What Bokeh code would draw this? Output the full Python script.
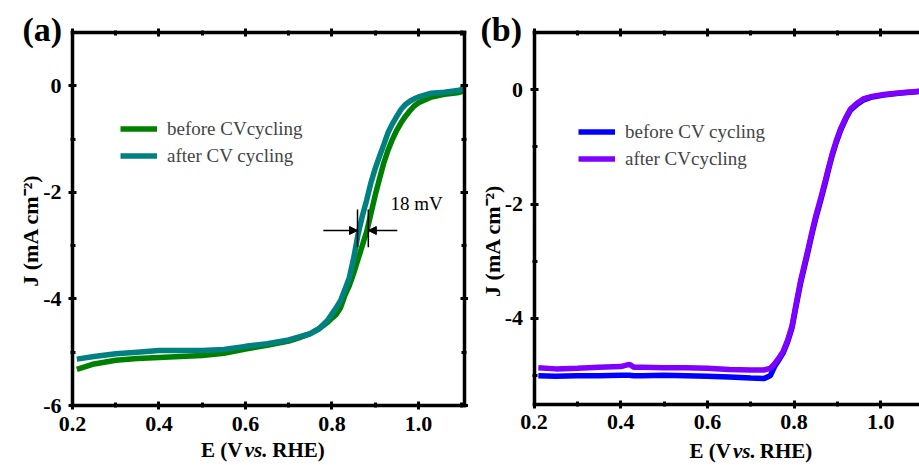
import math
from bokeh.plotting import figure
from bokeh.models import (FixedTicker, LinearAxis, Legend, LegendItem, Label,
                          Arrow, NormalHead, Range1d)
from bokeh.layouts import row
from bokeh.embed import file_html
from bokeh.resources import INLINE

# ---------------- data ----------------
# panel (a)
E_A = [0.21, 0.25, 0.30, 0.35, 0.40, 0.45, 0.50, 0.55, 0.60, 0.65, 0.70, 0.72,
       0.75, 0.77, 0.79, 0.80, 0.81, 0.82, 0.83, 0.84, 0.85, 0.86, 0.87, 0.88,
       0.89, 0.90, 0.91, 0.92, 0.93, 0.94, 0.95, 0.96, 0.97, 0.98, 0.99, 1.00,
       1.03, 1.06, 1.09, 1.10, 1.106]
J_A_AFTER = [-5.13, -5.08, -5.03, -5.00, -4.97, -4.97, -4.97, -4.95, -4.89, -4.84, -4.77,
             -4.72, -4.65, -4.56, -4.40, -4.28, -4.16, -4.03, -3.82, -3.60, -3.24, -2.80,
             -2.45, -2.15, -1.82, -1.55, -1.32, -1.10, -0.87, -0.71, -0.57, -0.44, -0.35,
             -0.29, -0.245, -0.21, -0.14, -0.12, -0.09, -0.07, 0.0]
J_A_BEFORE = [-5.32, -5.22, -5.15, -5.12, -5.10, -5.08, -5.06, -5.02, -4.94, -4.87, -4.79,
              -4.74, -4.65, -4.56, -4.44, -4.36, -4.29, -4.16, -3.93, -3.75, -3.52, -3.26,
              -3.00, -2.74, -2.40, -2.05, -1.74, -1.44, -1.20, -1.00, -0.83, -0.69, -0.57,
              -0.47, -0.38, -0.32, -0.21, -0.16, -0.13, -0.11, -0.09]

# panel (b)
E_B = [0.21, 0.25, 0.30, 0.35, 0.40, 0.42, 0.43, 0.45, 0.50, 0.55, 0.60, 0.65, 0.70,
       0.73, 0.745, 0.755, 0.765, 0.775, 0.785, 0.795, 0.805, 0.815, 0.83, 0.842,
       0.85, 0.861, 0.872, 0.88, 0.888, 0.897, 0.907, 0.92, 0.93, 0.945, 0.961, 0.98,
       1.007, 1.03, 1.053, 1.075, 1.089]
J_B_BEFORE = [-5.00, -5.01, -5.00, -5.00, -4.99, -4.99, -5.00, -5.00, -4.99, -5.00, -5.01,
              -5.02, -5.04, -5.05, -5.00, -4.84, -4.72, -4.60, -4.41, -4.17, -3.77, -3.38,
              -2.90, -2.50, -2.25, -1.95, -1.63, -1.38, -1.15, -0.93, -0.72, -0.50, -0.36,
              -0.26, -0.18, -0.13, -0.095, -0.075, -0.058, -0.045, -0.035]
J_B_AFTER = [-4.86, -4.88, -4.87, -4.85, -4.84, -4.80, -4.85, -4.85, -4.86, -4.86, -4.87,
             -4.89, -4.90, -4.90, -4.87, -4.79, -4.69, -4.57, -4.38, -4.13, -3.73, -3.34,
             -2.86, -2.46, -2.21, -1.91, -1.59, -1.35, -1.12, -0.90, -0.69, -0.48, -0.34,
             -0.24, -0.16, -0.12, -0.087, -0.068, -0.052, -0.04, -0.03]

X_TICKS = [0.2, 0.4, 0.6, 0.8, 1.0]
X_TICK_LABELS = ["0.2", "0.4", "0.6", "0.8", "1.0"]
X_MINOR = [0.3, 0.5, 0.7, 0.9, 1.1]
YA_TICKS = [0, -2, -4, -6]
YA_TICK_LABELS = ["0", "-2", "-4", "-6"]
YA_MINOR = [-1, -3, -5]
YB_TICKS = [0, -2, -4]
YB_TICK_LABELS = ["0", "-2", "-4"]
YB_MINOR = [-1, -3, -5]

LEG_A = ["before CVcycling", "after CV cycling"]
LEG_B = ["before CV cycling", "after CVcycling"]
Y_LABEL = "J (mA cm\u207b\u00b2)"

FONT = "Liberation Serif"
TICK_FS = "22px"
LAB_FS = "21px"
AX_W = 3.5
LW = 5.5


def style_axis(ax, ticks, labels, minor, loc, bounds, show_labels=True):
    ax.fixed_location = loc
    ax.bounds = bounds
    ax.ticker = FixedTicker(ticks=ticks, minor_ticks=minor)
    ax.major_label_overrides = {t: l for t, l in zip(ticks, labels)}
    ax.axis_line_width = AX_W
    ax.axis_line_color = "black"
    ax.axis_line_cap = "square"
    ax.major_tick_line_width = 3
    ax.minor_tick_line_width = 3
    ax.major_tick_in = 4
    ax.major_tick_out = 4
    ax.minor_tick_in = 3
    ax.minor_tick_out = 2
    ax.major_label_text_font = FONT
    ax.major_label_text_font_style = "bold"
    ax.major_label_text_font_size = TICK_FS
    ax.major_label_standoff = 7
    ax.major_label_text_color = "black" if show_labels else None


def make_fig(width, xr, yr):
    p = figure(width=width, height=465, x_range=Range1d(*xr), y_range=Range1d(*yr),
               output_backend="svg", toolbar_location=None, min_border_left=0,
               min_border_right=0, min_border_top=0, min_border_bottom=0)
    p.grid.visible = False
    p.outline_line_color = None
    p.background_fill_color = "white"
    p.border_fill_color = "white"
    return p


def text(p, x, y, s, size, style="normal", align="left", angle=0.0):
    p.add_layout(Label(x=x, y=y, text=s, text_font=FONT, text_font_size=size,
                       text_font_style=style, text_align=align, text_baseline="middle",
                       angle=angle, text_color="black"))


def xlabel(p, x_end_E, x_vs, x_rhe, y):
    text(p, x_end_E, y, "E (V", LAB_FS, "bold", "right")
    text(p, x_vs, y, "vs.", LAB_FS, "bold italic")
    text(p, x_rhe, y, "RHE)", LAB_FS, "bold")


def legend(p, renderers, labels, loc):
    lg = Legend(items=[LegendItem(label=l, renderers=[r]) for l, r in zip(labels, renderers)],
                location=loc, border_line_color=None, background_fill_alpha=0,
                label_text_font=FONT, label_text_font_size="19px", glyph_width=37,
                glyph_height=23, label_height=23, spacing=4, padding=0, margin=0,
                label_standoff=10)
    p.add_layout(lg)


# ---------------- panel (a) ----------------
XA = (0.03353, 1.11561)
YA = (-7.126, 1.6005)
XA_END = 1.106
pa = make_fig(468, XA, YA)
style_axis(pa.xaxis[0], X_TICKS, X_TICK_LABELS, X_MINOR, -6.0, (0.2, XA_END))
style_axis(pa.yaxis[0], YA_TICKS, YA_TICK_LABELS, YA_MINOR, 0.2, (-6.0, 1.0))
top_a = LinearAxis()
style_axis(top_a, X_TICKS, X_TICK_LABELS, X_MINOR, 1.0, (0.2, XA_END), show_labels=False)
pa.add_layout(top_a, "above")
right_a = LinearAxis()
style_axis(right_a, YA_TICKS, YA_TICK_LABELS, YA_MINOR, XA_END, (-6.0, 1.0), show_labels=False)
pa.add_layout(right_a, "right")

ra1 = pa.line(E_A, J_A_BEFORE, line_color="#008000", line_width=LW)
ra2 = pa.line(E_A, J_A_AFTER, line_color="#008080", line_width=LW)
legend(pa, [ra1, ra2], LEG_A, (120, 298))
xlabel(pa, 0.593, 0.598, 0.662, -6.844)
text(pa, 0.103, -2.715, Y_LABEL, "22px", "bold", "center", math.pi / 2)
text(pa, 0.0844, 1.055, "(a)", "34px", "bold")
text(pa, 0.935, -2.218, "18 mV", "19px")
for xv in (0.859, 0.884):
    pa.add_layout(Arrow(end=None, x_start=xv, y_start=-2.32, x_end=xv, y_end=-3.03,
                        line_width=1.5, line_color="black"))
pa.add_layout(Arrow(end=NormalHead(size=8, fill_color="black", line_color="black"),
                    x_start=0.780, y_start=-2.716, x_end=0.859, y_end=-2.716,
                    line_width=1.5, line_color="black"))
pa.add_layout(Arrow(end=NormalHead(size=8, fill_color="black", line_color="black"),
                    x_start=0.951, y_start=-2.716, x_end=0.884, y_end=-2.716,
                    line_width=1.5, line_color="black"))

# ---------------- panel (b) ----------------
XB = (0.04890, 1.08927)
YB = (-6.5677, 1.5546)
pb = make_fig(451, XB, YB)
style_axis(pb.xaxis[0], X_TICKS, X_TICK_LABELS, X_MINOR, -5.5, (0.2, XB[1]))
style_axis(pb.yaxis[0], YB_TICKS, YB_TICK_LABELS, YB_MINOR, 0.2, (-5.5, 1.0))
top_b = LinearAxis()
style_axis(top_b, X_TICKS, X_TICK_LABELS, X_MINOR, 1.0, (0.2, XB[1]), show_labels=False)
pb.add_layout(top_b, "above")

rb1 = pb.line(E_B, J_B_BEFORE, line_color="#0000ff", line_width=LW)
rb2 = pb.line(E_B, J_B_AFTER, line_color="#8000ff", line_width=LW)
legend(pb, [rb1, rb2], LEG_B, (110, 295))
xlabel(pb, 0.654, 0.659, 0.721, -6.306)
text(pb, 0.105, -2.64, Y_LABEL, "22px", "bold", "center", math.pi / 2)
text(pb, 0.0766, 1.047, "(b)", "34px", "bold")

layout = row(pa, pb)
open("out.html", "w").write(file_html(layout, INLINE))
